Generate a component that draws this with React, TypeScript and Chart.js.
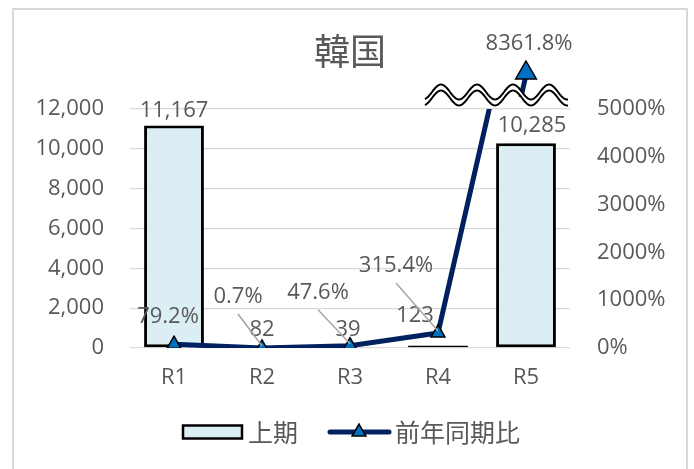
import React, { useEffect, useRef } from "react";
import { Chart, registerables } from "chart.js";

Chart.register(...registerables);

const categories = ["R1", "R2", "R3", "R4", "R5"];
const barValues = [11167, 82, 39, 123, 10285];
const barLabels = ["11,167", "82", "39", "123", "10,285"];
const ratioValues = [79.2, 0.7, 47.6, 315.4, 8361.8];
const ratioLabels = ["79.2%", "0.7%", "47.6%", "315.4%", "8361.8%"];
const leftTicksMax = 12000;
const rightTicksMax = 5000;
const seriesNames = ["上期", "前年同期比"];
const titleText = "韓国";

// label placement tweaks (presentation only)
const barLabelShift = [[0, 2], [0, 0], [-2, 0], [-23, -13], [6, 0]];
const lineLabelShift = [[-6, -27], [-24, -51], [-32, -53], [-42, -67]];
const leaderFor = [false, true, true, true];

const FONT = "'Open Sans', 'Noto Sans CJK JP', sans-serif";
const CJK = "'Noto Sans CJK JP', 'Open Sans', sans-serif";
const TXT = "#595959";
const BAR_FILL = "#DAEEF3";
const NAVY = "#002060";
const POINT = "#0070C0";

function tri(ctx: any, cx: number, cy: number, r: number) {
  ctx.beginPath();
  ctx.moveTo(cx, cy - r);
  ctx.lineTo(cx + r * 0.866, cy + r * 0.5);
  ctx.lineTo(cx - r * 0.866, cy + r * 0.5);
  ctx.closePath();
  ctx.fillStyle = POINT;
  ctx.fill();
  ctx.strokeStyle = "#000";
  ctx.lineWidth = 1.5;
  ctx.lineCap = "butt";
  ctx.stroke();
}

const decoPlugin = {
  id: "deco",
  afterDatasetsDraw(chart: any) {
    const ctx = chart.ctx;
    const x = chart.scales.x;
    const top = chart.chartArea.top;
    const x5 = x.getPixelForValue(4);
    ctx.save();

    // arrow continuing beyond the axis break
    ctx.strokeStyle = NAVY;
    ctx.lineWidth = 5;
    ctx.beginPath();
    ctx.moveTo(x5 - 5, top - 12);
    ctx.lineTo(x5, top - 34);
    ctx.stroke();
    tri(ctx, x5, top - 36, 12);

    // axis break zigzag
    const xs = x.getPixelForValue(3) - 13;
    const xe = x5 + 42;
    const yc = top - 14;
    const A = 7.5;
    const P = 36;
    const x0 = x.getPixelForValue(3) + 3;
    const wave = (xx: number, off: number) => yc + off - A * Math.cos((2 * Math.PI * (xx - x0)) / P);
    ctx.beginPath();
    for (let xx = xs; xx <= xe; xx += 1) {
      const yy = wave(xx, -3);
      if (xx === xs) ctx.moveTo(xx, yy);
      else ctx.lineTo(xx, yy);
    }
    for (let xx = xe; xx >= xs; xx -= 1) ctx.lineTo(xx, wave(xx, 3));
    ctx.closePath();
    ctx.fillStyle = "#ffffff";
    ctx.fill();
    ctx.strokeStyle = "#000";
    ctx.lineWidth = 2;
    [-3, 3].forEach((off) => {
      ctx.beginPath();
      for (let xx = xs; xx <= xe; xx += 1) {
        const yy = wave(xx, off);
        if (xx === xs) ctx.moveTo(xx, yy);
        else ctx.lineTo(xx, yy);
      }
      ctx.stroke();
    });

    // data labels
    ctx.font = `22px ${FONT}`;
    ctx.fillStyle = TXT;
    ctx.textAlign = "center";
    ctx.textBaseline = "middle";
    const barMeta = chart.getDatasetMeta(0);
    barMeta.data.forEach((el: any, i: number) => {
      const [dx, dy] = barLabelShift[i];
      ctx.fillText(barLabels[i], el.x + dx, el.y - 17 + dy);
    });
    const lineMeta = chart.getDatasetMeta(1);
    lineMeta.data.forEach((el: any, i: number) => {
      if (i >= lineLabelShift.length) return;
      const [dx, dy] = lineLabelShift[i];
      const lx = el.x + dx;
      const ly = el.y + dy;
      if (leaderFor[i]) {
        ctx.strokeStyle = "#a6a6a6";
        ctx.lineWidth = 1.5;
        ctx.beginPath();
        ctx.moveTo(lx, ly + 17);
        ctx.lineTo(el.x, el.y - 2);
        ctx.stroke();
      }
      ctx.fillStyle = TXT;
      ctx.fillText(ratioLabels[i], lx, ly);
    });
    ctx.fillStyle = TXT;
    ctx.fillText(ratioLabels[4], x5 + 3, top - 65);

    // title
    ctx.font = `36px ${CJK}`;
    ctx.fillText(titleText, (chart.chartArea.left + chart.chartArea.right) / 2, 51);

    // legend
    const cy = 432;
    ctx.fillStyle = BAR_FILL;
    ctx.fillRect(183, cy - 6.5, 59, 13);
    ctx.strokeStyle = "#000";
    ctx.lineWidth = 2.5;
    ctx.strokeRect(183, cy - 6.5, 59, 13);
    ctx.font = `25px ${CJK}`;
    ctx.fillStyle = TXT;
    ctx.textAlign = "left";
    ctx.fillText(seriesNames[0], 248, cy);
    ctx.strokeStyle = NAVY;
    ctx.lineWidth = 5;
    ctx.lineCap = "round";
    ctx.beginPath();
    ctx.moveTo(330, cy);
    ctx.lineTo(389, cy);
    ctx.stroke();
    tri(ctx, 359, cy, 8);
    ctx.fillStyle = TXT;
    ctx.fillText(seriesNames[1], 395, cy);
    ctx.restore();
  },
};

export default function App() {
  const ref = useRef<HTMLCanvasElement | null>(null);
  useEffect(() => {
    if (!ref.current) return;
    const chart = new Chart(ref.current, {
      type: "bar",
      data: {
        labels: categories,
        datasets: [
          {
            type: "bar",
            label: seriesNames[0],
            data: barValues,
            yAxisID: "y",
            backgroundColor: BAR_FILL,
            borderColor: "#000",
            borderWidth: 3,
            borderSkipped: false,
            barPercentage: 0.68,
            categoryPercentage: 1,
            order: 2,
          } as any,
          {
            type: "line",
            label: seriesNames[1],
            data: ratioValues,
            yAxisID: "y1",
            borderColor: NAVY,
            borderWidth: 5,
            pointStyle: "triangle",
            pointRadius: 8,
            pointBackgroundColor: POINT,
            pointBorderColor: "#000",
            pointBorderWidth: 1.5,
            tension: 0,
            order: 1,
          } as any,
        ],
      },
      options: {
        responsive: false,
        animation: false,
        devicePixelRatio: 1,
        layout: { padding: { top: 109, left: 0, right: 0, bottom: 0 } },
        plugins: {
          legend: { display: false },
          title: { display: false },
          tooltip: { enabled: false },
        },
        scales: {
          x: {
            grid: { display: false, drawTicks: false },
            border: { display: false },
            ticks: { color: TXT, font: { size: 22, family: FONT }, padding: 17 },
            afterFit: (s: any) => {
              s.height = 121;
            },
          },
          y: {
            position: "left",
            min: 0,
            max: leftTicksMax,
            ticks: {
              stepSize: 2000,
              color: TXT,
              font: { size: 22, family: FONT },
              padding: 26,
              callback: (v: any) => Number(v).toLocaleString("en-US"),
            },
            grid: { color: "#d9d9d9", lineWidth: 1.3, drawTicks: false },
            border: { display: false },
            afterFit: (s: any) => {
              s.width = 130;
            },
          },
          y1: {
            position: "right",
            min: 0,
            max: rightTicksMax,
            ticks: {
              stepSize: 1000,
              color: TXT,
              font: { size: 22, family: FONT },
              padding: 27,
              callback: (v: any) => `${v}%`,
            },
            grid: { display: false, drawTicks: false },
            border: { display: false },
            afterFit: (s: any) => {
              s.width = 124;
            },
          },
        },
      },
      plugins: [decoPlugin],
    } as any);
    return () => chart.destroy();
  }, []);
  return (
    <div
      style={{
        position: "fixed",
        left: 0,
        top: 0,
        width: 694,
        height: 469,
        overflow: "hidden",
        background: "#fff",
      }}
    >
      <div
        style={{
          position: "absolute",
          left: 12,
          top: 8,
          width: 676,
          height: 520,
          boxSizing: "border-box",
          border: "2px solid #d9d9d9",
        }}
      />
      <canvas ref={ref} width={694} height={469} style={{ position: "absolute", left: 0, top: 0 }} />
    </div>
  );
}
